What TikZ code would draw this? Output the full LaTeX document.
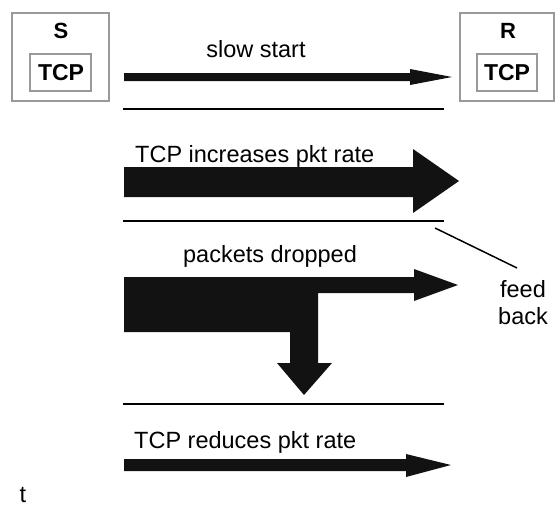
\documentclass[tikz,border=0pt]{standalone}
\usepackage{fontspec}
\setmainfont{Liberation Sans}
\begin{document}
\begin{tikzpicture}[x=1pt,y=-1pt,
  hostbox/.style={draw=black!40,line width=1.6pt},
  lbl/.style={font=\fontsize{23.5}{27}\selectfont,inner sep=0pt},
  blbl/.style={font=\fontsize{22}{24}\selectfont\bfseries,inner sep=0pt},
  tcplbl/.style={font=\fontsize{23}{24}\selectfont\bfseries,inner sep=0pt},
  sep/.style={line width=2pt},
  fat/.style={fill=black!93,draw=none}]
\useasboundingbox (0,0) rectangle (559,506);
% hosts
\draw[hostbox] (12,13) rectangle (109,101);
\draw[hostbox] (30,54) rectangle (91,91);
\node[blbl] (S) at (61,31) {S};
\node[tcplbl] (stcp) at (61,72.5) {TCP};
\draw[hostbox] (460,13) rectangle (554,101);
\draw[hostbox] (477,54) rectangle (537,91);
\node[blbl] (R) at (508,31) {R};
\node[tcplbl] (rtcp) at (507,72.5) {TCP};
% slow start
\node[lbl,anchor=base] (ss) at (256,57) {slow start};
\fill[fat] (124,73) -- (410,73) -- (410,69) -- (452,77) -- (410,85) -- (410,81) -- (124,81) -- cycle;
\draw[sep] (123,109) -- (444,109);
% increases
\node[lbl,anchor=base west] (inc) at (135,162) {TCP increases pkt rate};
\fill[fat] (124,167) -- (413,167) -- (413,149) -- (459,181) -- (413,213) -- (413,197) -- (124,197) -- cycle;
\draw[sep] (123,221) -- (444,221);
% packets dropped
\node[lbl,anchor=base] (pd) at (270,262) {packets dropped};
\fill[fat] (124,277) -- (414,277) -- (414,269) -- (458,285) -- (414,301) -- (414,293)
  -- (318,293) -- (318,363) -- (332,363) -- (304,395) -- (277,363) -- (290,363)
  -- (290,332) -- (124,332) -- cycle;
% feedback
\node[lbl,align=center] (fb) at (523,303) {feed\\back};
\coordinate (fbs) at (435,228);
\coordinate (fbe) at (517,268);
\draw[line width=1.5pt] (fbs) -- (fbe);
\draw[sep] (123,404) -- (444,404);
% reduces
\node[lbl,anchor=base west] (red) at (134,448) {TCP reduces pkt rate};
\fill[fat] (124,459) -- (406,459) -- (406,454) -- (451,465) -- (406,477) -- (406,471) -- (124,471) -- cycle;
% time
\node[lbl] (t) at (23,495) {t};
\end{tikzpicture}
\end{document}
